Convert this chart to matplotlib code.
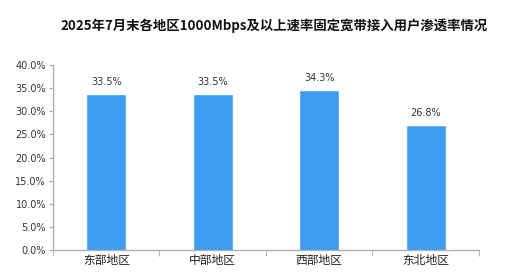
import matplotlib
matplotlib.use("Agg")
import matplotlib.pyplot as plt
from matplotlib.ticker import FuncFormatter, FixedLocator

plt.rcParams['font.family'] = ['Noto Sans CJK SC', 'DejaVu Sans']

title = "2025年7月末各地区1000Mbps及以上速率固定宽带接入用户渗透率情况"
categories = ["东部地区", "中部地区", "西部地区", "东北地区"]
values = [33.5, 33.5, 34.3, 26.8]
labels = ["33.5%", "33.5%", "34.3%", "26.8%"]

fig = plt.figure(figsize=(5.12, 2.74), dpi=100)
ax = fig.add_axes([0.1035, 0.0876, 0.832, 0.675])

x = list(range(len(categories)))
ax.bar(x, values, width=0.36, color="#3d9cf0", edgecolor="#5aaaf5", linewidth=0.6, zorder=2)
for xi, v, l in zip(x, values, labels):
    ax.text(xi, v + 1.8, l, ha="center", va="bottom", fontsize=7, color="#333333",
            family=["DejaVu Sans"])

ax.set_xlim(-0.5, len(categories) - 0.5)
ax.set_ylim(0, 40)
ax.set_yticks([0, 5, 10, 15, 20, 25, 30, 35, 40])
ax.yaxis.set_major_formatter(FuncFormatter(lambda v, p: f"{v:.1f}%"))
ax.set_xticks(x)
ax.set_xticklabels(categories, fontsize=8.5, color="#222222")
ax.xaxis.set_minor_locator(FixedLocator([i - 0.5 for i in range(len(categories) + 1)]))
ax.tick_params(axis="x", which="major", length=0, pad=3)
ax.tick_params(axis="x", which="minor", length=4, color="#aaaaaa", direction="out")
ax.tick_params(axis="y", length=3, color="#aaaaaa", labelsize=7, labelcolor="#333333", pad=2)
for lab in ax.get_yticklabels():
    lab.set_family(["DejaVu Sans"])

for s in ["top", "right"]:
    ax.spines[s].set_visible(False)
for s in ["left", "bottom"]:
    ax.spines[s].set_color("#b0b0b0")
    ax.spines[s].set_linewidth(1.0)

fig.text(0.535, 0.905, title, ha="center", va="center", fontsize=9.6, fontweight="bold", color="#111111")

fig.savefig("out.png", dpi=100, facecolor="white")
